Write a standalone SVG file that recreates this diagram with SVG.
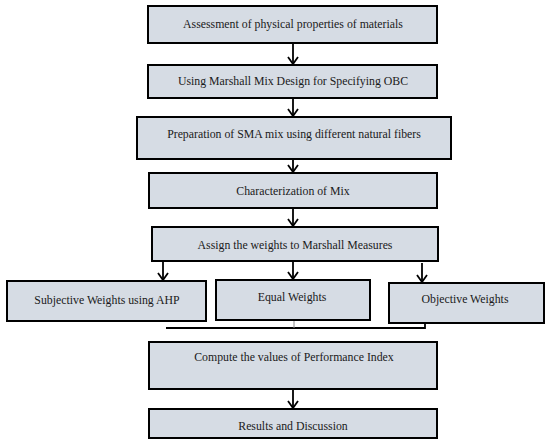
<svg xmlns="http://www.w3.org/2000/svg" width="550" height="444" viewBox="0 0 550 444">
<defs>
<marker id="ah" viewBox="0 0 10 12" refX="9" refY="6" markerWidth="10" markerHeight="12" markerUnits="userSpaceOnUse" orient="auto">
<path d="M2,1 L9,6 L2,11" fill="none" stroke="#000" stroke-width="1.8"/>
</marker>
</defs>
<style>
.box{fill:#d6dce4;stroke:#000;stroke-width:2}
.t{font-family:"Liberation Serif","Times New Roman",serif;font-size:11.8px;fill:#1a1a1a;text-anchor:middle}
.c{fill:none;stroke:#000;stroke-width:1.8}
</style>
<rect width="550" height="444" fill="#fff"/>
<g id="connectors">
<line class="c" x1="293" y1="43" x2="293" y2="64" marker-end="url(#ah)"/>
<line class="c" x1="293" y1="98" x2="293" y2="116" marker-end="url(#ah)"/>
<line class="c" x1="293" y1="159" x2="293" y2="172" marker-end="url(#ah)"/>
<line class="c" x1="293" y1="208" x2="293" y2="226" marker-end="url(#ah)"/>
<line class="c" x1="163" y1="261" x2="163" y2="280" marker-end="url(#ah)"/>
<line class="c" x1="293" y1="261" x2="293" y2="279" marker-end="url(#ah)"/>
<line class="c" x1="422" y1="263" x2="422" y2="282" marker-end="url(#ah)"/>
<path class="c" d="M166,328 H425 V323"/>
<line x1="294" y1="320" x2="294" y2="328" stroke="#888" stroke-width="1"/>
<line class="c" x1="293" y1="389" x2="293" y2="408" marker-end="url(#ah)"/>
</g>
<g id="n1"><rect class="box" x="148" y="6" width="289" height="37"/><text class="t" x="293" y="28">Assessment of physical properties of materials</text></g>
<g id="n2"><rect class="box" x="148" y="65" width="289" height="33"/><text class="t" x="293" y="85">Using Marshall Mix Design for Specifying OBC</text></g>
<g id="n3"><rect class="box" x="137" y="117" width="314" height="42"/><text class="t" x="294" y="138">Preparation of SMA mix using different natural fibers</text></g>
<g id="n4"><rect class="box" x="149" y="173" width="288" height="35"/><text class="t" x="293" y="195">Characterization of Mix</text></g>
<g id="n5"><rect class="box" x="152" y="227" width="286" height="34"/><text class="t" x="295" y="249">Assign the weights to Marshall Measures</text></g>
<g id="n6"><rect class="box" x="7" y="281" width="199" height="40"/><text class="t" x="107" y="304">Subjective Weights using AHP</text></g>
<g id="n7"><rect class="box" x="216" y="280" width="154" height="40"/><text class="t" x="292" y="301">Equal Weights</text></g>
<g id="n8"><rect class="box" x="389" y="283" width="155" height="40"/><text class="t" x="465" y="303">Objective Weights</text></g>
<g id="n9"><rect class="box" x="149" y="342" width="288" height="47"/><text class="t" x="294" y="361">Compute the values of Performance Index</text></g>
<g id="n10"><rect class="box" x="149" y="409" width="288" height="29"/><text class="t" x="293" y="430">Results and Discussion</text></g>
</svg>
